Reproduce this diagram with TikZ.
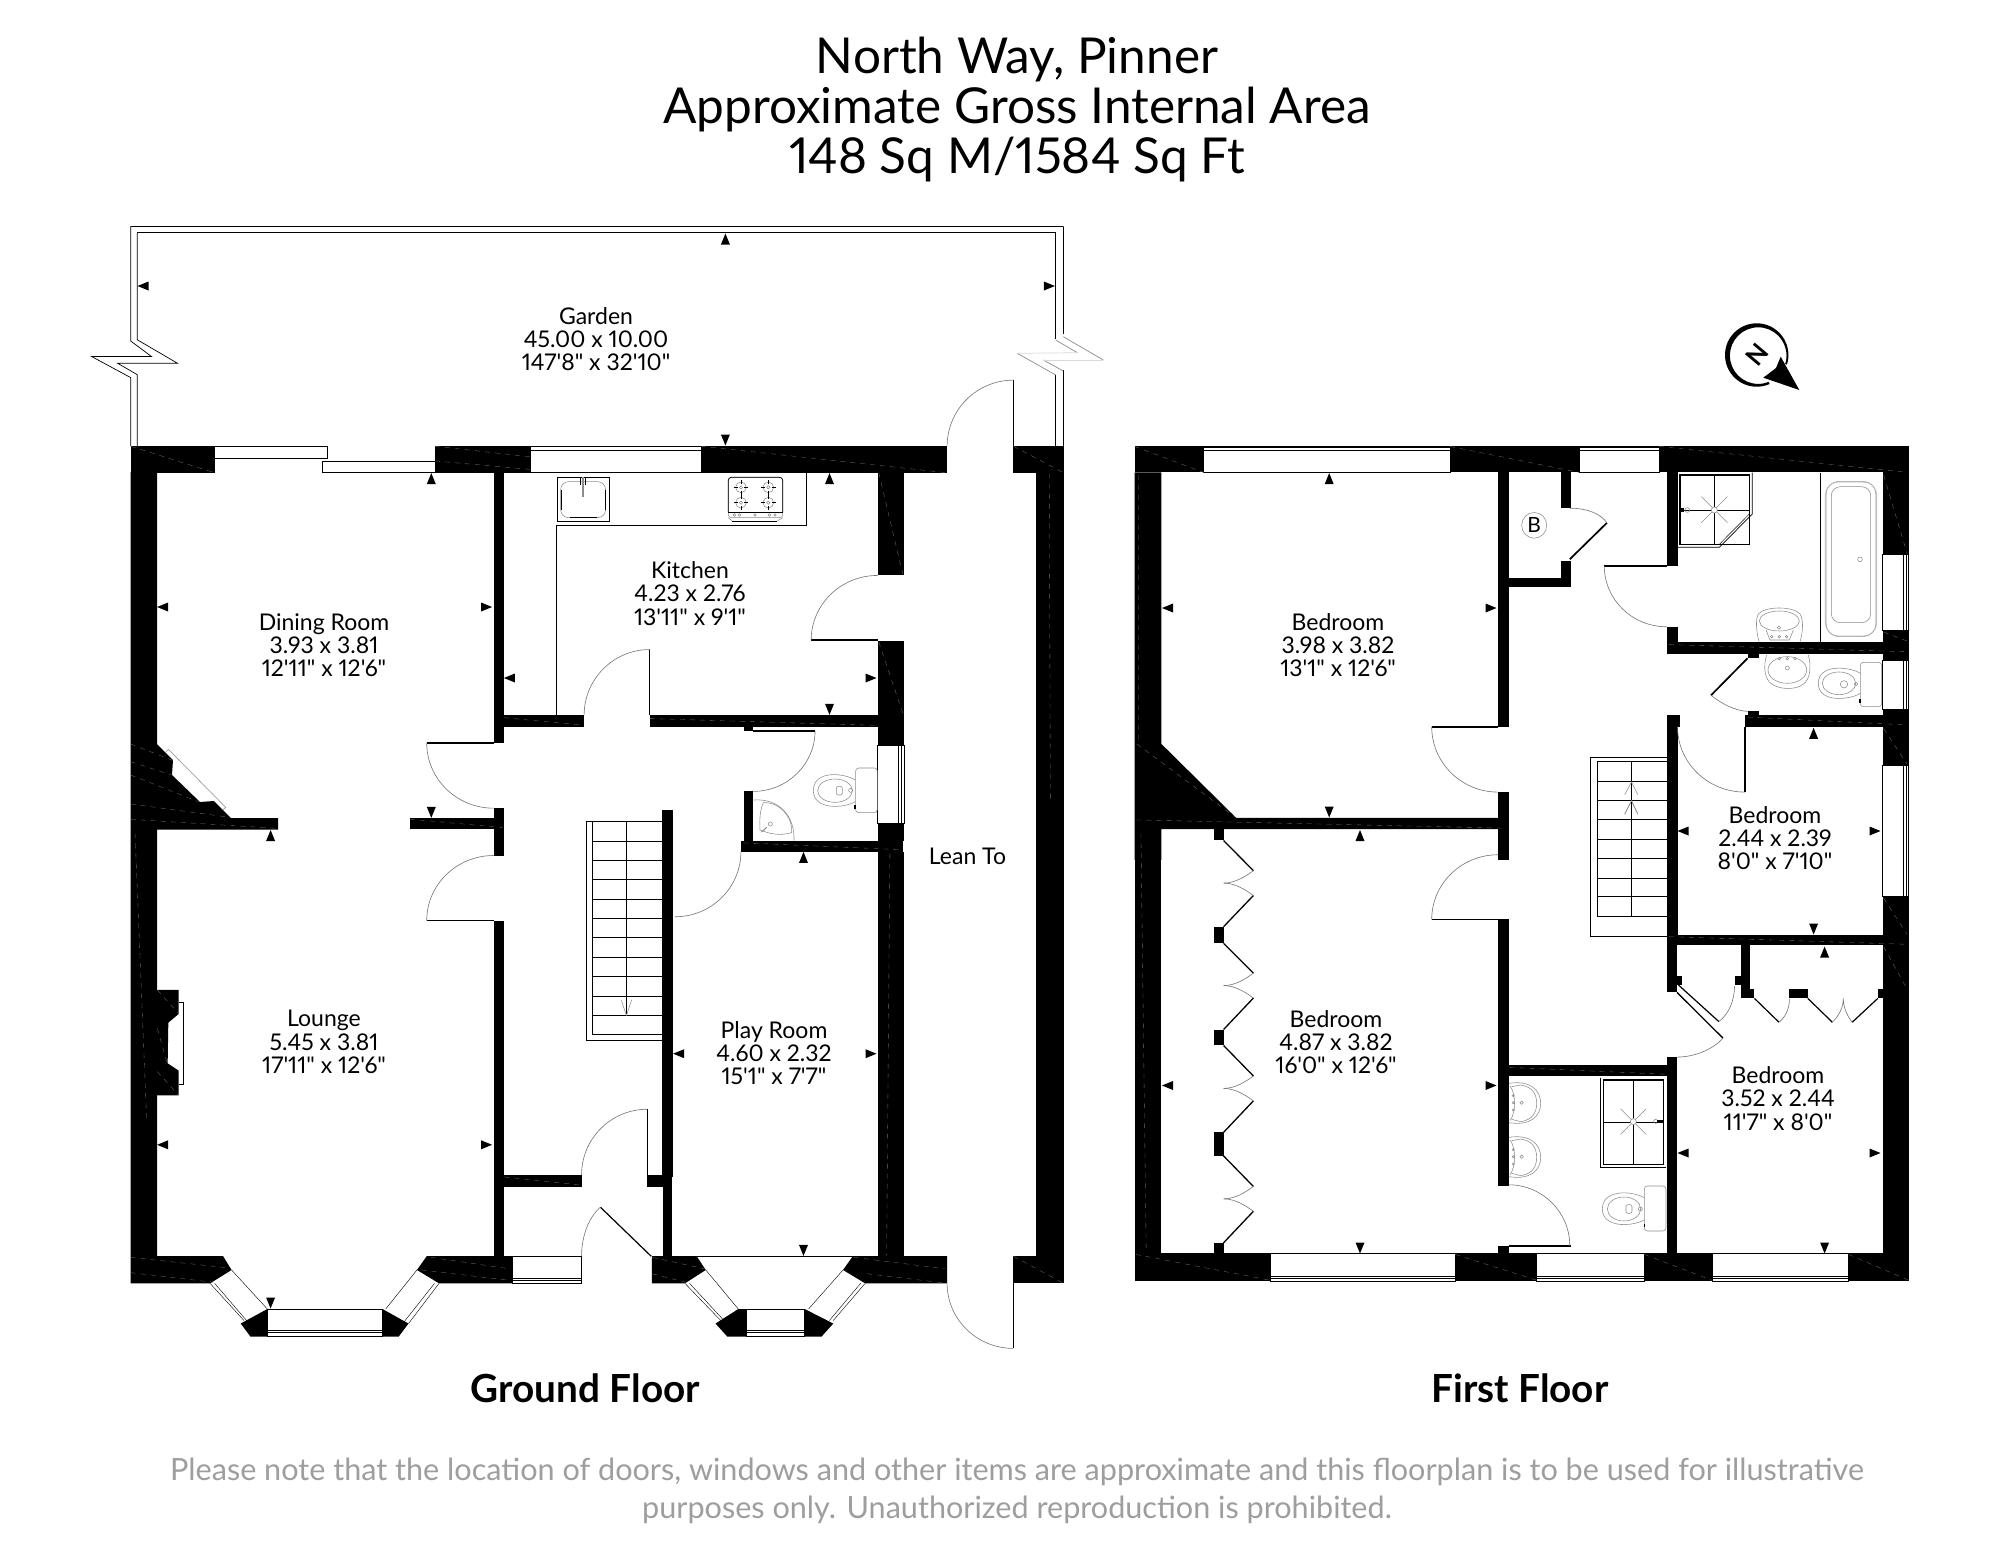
\documentclass[tikz,border=0pt]{standalone}
\usepackage{fontspec}
\usetikzlibrary{calc}
\newfontfamily\lato[Numbers=Proportional]{Lato}
\newfontfamily\latob[Numbers=Proportional]{Lato Bold}
\definecolor{arcg}{gray}{0.45}
\definecolor{fixg}{gray}{0.55}
\definecolor{ftg}{gray}{0.62}
\tikzset{
 z1/.style={shift={(80,200)},x=0.6505pt,y=-0.4209pt},
 z2/.style={shift={(80,800)},x=0.6505pt,y=-0.3827pt},
 z3/.style={shift={(1120,300)},x=0.523pt,y=-0.3571pt},
 z4/.style={shift={(1120,800)},x=0.523pt,y=-0.3317pt},
 z6/.style={shift={(120,700)},x=0.3333pt,y=-0.3333pt},
 z7/.style={shift={(1660,440)},x=0.3333pt,y=-0.3333pt},
 z8/.style={shift={(700,730)},x=0.3333pt,y=-0.3333pt},
 z9/.style={shift={(540,465)},x=0.3333pt,y=-0.3333pt},
 z10/.style={shift={(1500,1050)},x=0.3333pt,y=-0.3333pt},
 wall/.style={fill=black},
 thinl/.style={draw=black,line width=0.7pt},
 leaf/.style={draw=black,line width=1.7pt},
 arcl/.style={draw=arcg,line width=0.6pt},
 fix/.style={draw=fixg,line width=0.55pt},
 win/.style={draw=black,fill=white,line width=0.7pt},
 wl/.style={draw=white!42!black,line width=0.35pt,dash pattern=on 5pt off 5pt},
 room/.style={font=\lato\fontsize{23}{23.2}\selectfont,align=center,inner sep=0pt},
 ttl/.style={font=\lato\fontsize{49.5}{50}\selectfont,align=center,inner sep=0pt},
 flr/.style={font=\latob\fontsize{38.7}{40}\selectfont,inner sep=0pt},
 foot/.style={font=\lato\fontsize{30.6}{38.5}\selectfont,align=center,inner sep=0pt,text=ftg},
}
\newcommand\arcHV[4]{\pgfmathsetmacro\cxa{#1+0.552*(#3-#1)}\pgfmathsetmacro\cyb{#4-0.552*(#4-#2)}\draw[arcl] (#1,#2) .. controls (\cxa,#2) and (#3,\cyb) .. (#3,#4);}
\newcommand\mU[2]{\fill (#1,#2) ++(0,-5.5) -- ++(4.5,11) -- ++(-9,0) -- cycle;}
\newcommand\mD[2]{\fill (#1,#2) ++(0,5.5) -- ++(4.5,-11) -- ++(-9,0) -- cycle;}
\newcommand\mL[2]{\fill (#1,#2) ++(-5.5,0) -- ++(11,4.5) -- ++(0,-9) -- cycle;}
\newcommand\mR[2]{\fill (#1,#2) ++(5.5,0) -- ++(-11,4.5) -- ++(0,-9) -- cycle;}
\begin{document}
\begin{tikzpicture}[x=1pt,y=-1pt]
\fill[white] (0,0) rectangle (2000,1545);
\useasboundingbox (0,0) rectangle (2000,1545);
% ---- GROUND FLOOR upper
\begin{scope}[z1]
% garden
\draw[thinl] (78,585) -- (78,422) -- (18,372) -- (110,372) -- (78,335) -- (78,63) -- (1512,63);
\draw[thinl] (88,585) -- (88,415) -- (58,388) -- (150,388) -- (88,332) -- (88,78);
\draw[draw=black,line width=1.1pt] (88,78) -- (1500,78);
\draw[thinl] (1512,63) -- (1512,319);
\draw[thinl] (1500,78) -- (1500,330);
\draw[thinl] (1512,405) -- (1512,585);
\draw[thinl] (1500,415) -- (1500,585);
\end{scope}
% right zigzag (pixels)
\draw[draw=fixg,line width=.7pt] (1063.3,336.7) -- (1103.3,360);
\draw[draw=fixg,line width=.7pt] (1043.3,360) -- (1063.3,371);
\draw[draw=fixg,line width=.7pt] (1055.7,340) -- (1077.3,352.7);
\draw[draw=fixg,line width=.7pt] (1017.3,353.3) -- (1055.7,375);
\draw[draw=white!85!black,line width=1pt] (1103.3,360) -- (1043.3,360);
\draw[draw=white!85!black,line width=.7pt] (1077.3,352.7) -- (1017.3,353.3);
\begin{scope}[z1]
% top wall
\fill[wall] (78,585) rectangle (207,648);
\draw[win] (207,585) rectangle (380,613);
\draw[win] (373,620) rectangle (546,648);
\fill[wall] (546,585) rectangle (692,648);
\draw[win] (692,585) rectangle (955,648);
\draw[thinl] (692,595) -- (955,595);
\fill[wall] (955,585) rectangle (1333,648);
\fill[wall] (1435,585) rectangle (1512,648);
\draw[wl] (78,585) -- (207,648) (546,585) -- (692,610) (546,620) -- (692,640) (955,585) -- (1333,648) (1435,585) -- (1512,648);
% lean to door
\draw[thinl,line width=1pt] (1435,428) -- (1435,585);
\arcHV{1435}{428}{1333}{585}
% dining / kitchen wall
\fill[wall] (636,648) rectangle (652,1290);
\draw[leaf] (533,1290) -- (636,1290);
\arcHV{636}{1445}{533}{1290}
\fill[wall] (636,1224) rectangle (775,1252);
\fill[wall] (876,1224) rectangle (1265,1252);
\draw[wl] (652,1230) -- (775,1248) (876,1232) -- (1265,1250);
\draw[leaf,line width=1.2pt] (876,1068) -- (876,1224);
\arcHV{876}{1068}{775}{1224}
% worktop
\draw[thinl,line width=.7pt] (733,1224) -- (733,772) -- (1117,772) -- (1117,648);
% kitchen right wall
\fill[wall] (1226,648) rectangle (1267,892);
\fill[wall] (1226,1048) rectangle (1267,1295);
\draw[wl] (1228,648) -- (1265,890) (1228,1050) -- (1265,1220);
\draw[leaf] (1124,1046) -- (1226,1046);
\arcHV{1226}{892}{1124}{1046}
% WC window
\draw[win] (1226,1295) rectangle (1267,1480);
\draw[thinl] (1258,1295) -- (1258,1480) (1263,1295) -- (1263,1480);
\fill[wall] (1226,1480) rectangle (1267,1522);
\fill[wall] (1226,1252) rectangle (1267,1295);
% WC door
\fill[wall] (1020,1250) rectangle (1035,1262);
\draw[leaf] (1035,1261) -- (1130,1261);
\arcHV{1035}{1405}{1130}{1261}
\fill[wall] (1020,1405) rectangle (1035,1525);
% lean-to right wall
\fill[wall] (1470,648) rectangle (1512,1568);
\draw[wl] (1490,650) -- (1492,1568);
\draw[wl] (85,650) -- (100,1280);
\end{scope}
% sink and hob
\begin{scope}[z9]
\draw[thinl,line width=.8pt] (52,37) rectangle (208,170);
\draw[fix,rounded corners=8pt] (62,50) rectangle (197,158);
\draw[draw=black,line width=.7pt] (64,75) -- (64,135) (195,75) -- (195,135) (90,157) -- (170,157);
\draw[draw=fixg,line width=2pt] (128,37) -- (128,97);
\draw[draw=black,line width=.8pt] (121,37) -- (121,60) (136,37) -- (136,60);
\draw[fix,rounded corners=3pt] (565,37) rectangle (728,158);
\draw[draw=black,line width=.7pt,rounded corners=3pt] (565,142) -- (565,37) -- (728,37) -- (728,142);
\draw[draw=black,line width=.6pt] (565,142) -- (728,142);
\draw[draw=black,line width=1pt] (577,168) -- (712,168);
\draw[fix] (565,158) -- (577,168) (728,158) -- (712,168);
\foreach \kx in {583,598,645,688,705}{\draw[fix] (\kx,150) circle[radius=4];}
\foreach \bx/\by in {603/67,685/67,603/113,685/113}{
  \draw[fix] (\bx,\by) circle[radius=16];
  \draw[draw=black,line width=.5pt] (\bx-22,\by) -- (\bx-10,\by) (\bx+10,\by) -- (\bx+22,\by) (\bx,\by-22) -- (\bx,\by-10) (\bx,\by+10) -- (\bx,\by+22);
  \draw[fix] (\bx,\by) circle[radius=5];
}
\end{scope}
% left wall and chimney (pixels)
\fill[wall] (130.7,472) -- (157,472) -- (157,744) -- (173,760) -- (172,775) -- (200,802) -- (214,801) -- (231,818) -- (278,818) -- (278,829.5) -- (157,829.5) -- (157,1256) -- (130.7,1256) -- cycle;
\begin{scope}[z6]
\fill[wall] (110,870) -- (176,870) -- (176,942) -- (145,968) -- (143,1090) -- (176,1112) -- (176,1186) -- (110,1186) -- cycle;
\draw[thinl,line width=.9pt] (176,906) -- (190,906) -- (190,1153) -- (176,1153);
\draw[fix] (145,148) -- (317,322) -- (308,330);
\draw[fix] (145,148) -- (138,155);
\draw[wl] (32,132) -- (160,182) (32,185) -- (155,225) (32,225) -- (235,305) (32,312) -- (330,352) (32,358) -- (470,385) (112,870) -- (175,940) (112,1115) -- (175,1185) (112,985) -- (140,1085);
\draw[wl] (45,400) -- (80,1260);
\end{scope}
% ---- GROUND FLOOR lower
\begin{scope}[z2]
\fill[wall] (636,22) rectangle (652,145);
\fill[wall] (507,47) rectangle (636,77);
\draw[wl] (507,50) -- (650,72);
\draw[leaf] (533,315) -- (636,315);
\arcHV{636}{145}{533}{315}
\fill[wall] (636,315) rectangle (652,1192);
\fill[wall] (636,980) rectangle (771,1010);
\draw[wl] (652,985) -- (771,1006);
\draw[thinl,line width=1pt] (872,808) -- (872,980);
\arcHV{872}{808}{771}{980}
\fill[wall] (872,980) rectangle (910,1010);
\fill[wall] (895,25) rectangle (912,985);
\fill[wall] (896,985) rectangle (910,1192);
% stairs
\draw[thinl,line width=.8pt] (778,628) -- (778,55) -- (895,55);
\draw[thinl] (787,55) -- (787,612) -- (895,612);
\draw[thinl] (778,628) -- (895,628);
\draw[thinl] (840,55) -- (840,563);
\foreach \ty in {107,157,207,260,310,360,411,461,513,563}{\draw[thinl,line width=.9pt] (787,\ty) -- (895,\ty);}
\draw[fix] (832,522) -- (840,563) -- (848,522);
% WC wall under
\fill[wall] (1016,107) rectangle (1265,135);
\draw[wl] (1020,112) -- (1265,130);
\fill[wall] (1226,135) rectangle (1267,1192);
\fill[wall] (1226,60) rectangle (1267,107);
\draw[wl] (1245,140) -- (1240,1190);
\arcHV{915}{305}{1016}{135}
% bottom wall
\fill[wall] (78,1192) -- (220,1192) -- (233,1228) -- (200,1263) -- (78,1263) -- cycle;
\fill[wall] (533,1192) -- (665,1192) -- (665,1263) -- (552,1263) -- (518,1228) -- cycle;
\draw[win] (665,1192) rectangle (771,1263);
\draw[thinl] (665,1250) -- (771,1250) (665,1256) -- (771,1256);
\fill[wall] (879,1192) -- (948,1192) -- (962,1228) -- (930,1263) -- (879,1263) -- cycle;
\fill[wall] (1188,1192) -- (1333,1192) -- (1333,1263) -- (1207,1263) -- (1173,1228) -- cycle;
\fill[wall] (1435,1192) rectangle (1512,1263);
\fill[wall] (1470,0) rectangle (1512,1192);
\draw[wl] (78,1195) -- (225,1222) (78,1235) -- (205,1260) (525,1228) -- (660,1255) (540,1195) -- (660,1225) (880,1195) -- (960,1225) (880,1238) -- (935,1262) (1190,1195) -- (1330,1225) (1210,1238) -- (1330,1262) (1435,1192) -- (1512,1263);
% lounge bay
\fill[wall] (288,1330) -- (247,1368) -- (262,1402) -- (288,1402) -- cycle;
\fill[wall] (465,1330) -- (505,1368) -- (490,1402) -- (465,1402) -- cycle;
\draw[win] (288,1330) rectangle (465,1402);
\draw[thinl] (288,1386) -- (465,1386) (288,1392) -- (465,1392);
\draw[thinl,line width=.4pt] (233,1228) -- (288,1330) (200,1263) -- (252,1360) (207,1263) -- (258,1364) (518,1228) -- (470,1330) (552,1263) -- (505,1368) (545,1263) -- (498,1364);
% play bay
\fill[wall] (1012,1330) -- (977,1368) -- (995,1402) -- (1024,1402) -- (1024,1330) -- cycle;
\fill[wall] (1114,1330) -- (1158,1368) -- (1140,1402) -- (1114,1402) -- cycle;
\draw[win] (1024,1330) rectangle (1114,1402);
\draw[thinl] (1024,1386) -- (1114,1386) (1024,1392) -- (1114,1392);
\draw[thinl,line width=.4pt] (962,1228) -- (1012,1330) (930,1263) -- (985,1360) (937,1263) -- (990,1360) (1173,1228) -- (1120,1330) (1207,1263) -- (1158,1360) (1200,1263) -- (1152,1360);
\draw[thinl,line width=.8pt] (948,1192) -- (1188,1192);
% front door
\draw[leaf,line width=1.2pt] (800,1064) -- (878,1192);
\draw[arcl] (800,1064) .. controls (782,1090) and (771,1140) .. (771,1192);
% lean-to lower door
\draw[thinl,line width=1pt] (1435,1263) -- (1435,1433);
\arcHV{1435}{1433}{1333}{1263}
\end{scope}
% WC fixtures
\begin{scope}[z8]
\draw[fix,rounded corners=3pt] (467,114) rectangle (532,248);
\draw[fix] (466,150) .. controls (430,128) and (340,120) .. (340,182) .. controls (340,240) and (430,236) .. (466,215);
\draw[fix] (405,182) circle[x radius=52,y radius=35];
\draw[fix,rounded corners=2pt] (409,169) rectangle (427,195);
\draw[fix] (452,181) circle[radius=6];
\fill (463,226) rectangle (467,236);
\draw[fix] (162,210) .. controls (240,205) and (285,260) .. (282,332);
\draw[fix] (190,218) .. controls (240,215) and (280,265) .. (275,308) .. controls (240,318) and (210,312) .. (180,300) .. controls (178,270) and (180,240) .. (190,218);
\draw[fix] (211,282) circle[radius=6];
\draw[fix,line width=1pt] (185,306) -- (200,292);
\end{scope}
% ---- FIRST FLOOR
\begin{scope}[z3]
\fill[wall] (28,410) rectangle (160,483);
\draw[win] (160,410) rectangle (631,483);
\draw[thinl] (160,414) -- (631,414) (160,422) -- (631,422);
\fill[wall] (631,410) rectangle (878,483);
\draw[win] (878,410) rectangle (1031,483);
\draw[thinl] (878,414) -- (1031,414) (878,422) -- (1031,422);
\fill[wall] (1031,410) rectangle (1508,483);
\draw[wl] (28,410) -- (160,483) (631,410) -- (878,483) (1031,410) -- (1508,483);
% left wall + chimney
\fill[wall] (28,483) -- (79,483) -- (79,1243) -- (222,1450) -- (743,1450) -- (743,1482) -- (79,1482) -- (79,1568) -- (28,1568) -- cycle;
\draw[wl] (35,490) -- (35,1240) (32,1243) -- (220,1448) (32,1458) -- (740,1475);
% right wall
\fill[wall] (1458,483) rectangle (1508,713);
\draw[win] (1458,713) rectangle (1508,925);
\draw[thinl] (1498,713) -- (1498,925) (1503,713) -- (1503,925);
\fill[wall] (1458,925) rectangle (1508,958);
\fill[wall] (1045,958) rectangle (1508,990);
\fill[wall] (1458,990) rectangle (1508,1008);
\draw[win] (1458,1008) rectangle (1508,1145);
\draw[thinl] (1498,1008) -- (1498,1145) (1503,1008) -- (1503,1145);
\fill[wall] (1458,1145) rectangle (1508,1162);
\fill[wall] (1195,1162) rectangle (1508,1195);
\fill[wall] (1458,1195) rectangle (1508,1302);
\draw[wl] (1460,490) -- (1505,710) (1460,930) -- (1505,955) (1050,965) -- (1505,985) (1200,1168) -- (1505,1190) (1460,1200) -- (1505,1300);
% internal wall
\fill[wall] (723,483) rectangle (743,1195);
\draw[leaf] (596,1195) -- (723,1195);
\arcHV{723}{1378}{596}{1195}
\fill[wall] (723,1378) rectangle (743,1568);
% cupboard
\fill[wall] (723,778) rectangle (862,803);
\fill[wall] (843,483) rectangle (862,583);
\fill[wall] (843,730) rectangle (862,803);
\draw[leaf] (860,726) -- (931,624);
\draw[arcl] (860,583) .. controls (895,583) and (920,600) .. (931,624);
\draw[fix] (792,631) circle[x radius=24,y radius=36];
\node[inner sep=0pt,font=\lato\fontsize{21}{23}\selectfont] (bletter) at (792,631) {B};
% bathroom wall
\fill[wall] (1045,483) rectangle (1066,745);
\draw[leaf] (926,745) -- (1045,745);
\arcHV{1045}{915}{926}{745}
\fill[wall] (1045,915) rectangle (1066,958);
% WC door
\fill[wall] (1200,990) rectangle (1222,1003);
\draw[leaf] (1200,1003) -- (1130,1107);
\draw[arcl] (1130,1107) .. controls (1150,1130) and (1175,1150) .. (1200,1152);
\fill[wall] (1200,1152) rectangle (1222,1162);
% bed 2 door + wall
\fill[wall] (1045,1162) rectangle (1071,1195);
\fill[wall] (1045,1195) rectangle (1067,1568);
\draw[leaf,line width=1.2pt] (1195,1195) -- (1195,1378);
\arcHV{1195}{1378}{1066}{1195}
% stairs
\draw[thinl,line width=.8pt] (900,1568) -- (900,1280) -- (1045,1280);
\draw[thinl] (912,1568) -- (912,1292) -- (1045,1292);
\draw[thinl] (978,1292) -- (978,1568);
\foreach \ty in {1348,1402,1455,1510}{\draw[thinl,line width=.9pt] (912,\ty) -- (1045,\ty);}
\draw[fix] (965,1385) -- (978,1350) -- (990,1385);
\draw[fix] (965,1440) -- (978,1403) -- (990,1440);
\end{scope}
% bedroom 2 window (pixels)
\draw[win] (1882.5,765) rectangle (1908.7,896.8);
\draw[thinl] (1903.4,765) -- (1903.4,896.8) (1906,765) -- (1906,896.8);
\begin{scope}[z4]
\fill[wall] (28,0) rectangle (79,1368);
\fill[wall] (79,55) rectangle (743,88);
\draw[wl] (32,60) -- (740,85) (40,100) -- (50,1360);
\fill[wall] (723,88) rectangle (743,165);
\draw[leaf] (596,360) -- (723,360);
\arcHV{723}{165}{596}{360}
\fill[wall] (723,360) rectangle (743,1163);
\fill[wall] (723,800) rectangle (1065,832);
\fill[wall] (723,1344) rectangle (743,1368);
\draw[leaf] (743,1344) -- (862,1344);
\arcHV{743}{1160}{860}{1344}
\draw[wl] (745,806) -- (1060,828);
% bottom wall
\fill[wall] (28,1368) rectangle (288,1450);
\draw[win] (288,1368) rectangle (641,1450);
\draw[thinl] (288,1436) -- (641,1436) (288,1442) -- (641,1442);
\fill[wall] (641,1368) rectangle (797,1450);
\draw[win] (797,1368) rectangle (1003,1450);
\draw[thinl] (797,1436) -- (1003,1436) (797,1442) -- (1003,1442);
\fill[wall] (1003,1368) rectangle (1132,1450);
\draw[win] (1132,1368) rectangle (1393,1450);
\draw[thinl] (1132,1436) -- (1393,1436) (1132,1442) -- (1393,1442);
\fill[wall] (1393,1368) rectangle (1508,1450);
\draw[thinl,line width=.8pt] (79,1368) -- (1458,1368);
\draw[wl] (30,1370) -- (288,1448) (641,1370) -- (797,1448) (1003,1370) -- (1132,1448) (1393,1370) -- (1508,1448);
% right
\fill[wall] (1458,292) rectangle (1508,408);
\fill[wall] (1045,408) rectangle (1508,438);
\fill[wall] (1458,438) rectangle (1508,1368);
\fill[wall] (1449,570) rectangle (1458,598);
\draw[wl] (1460,296) -- (1505,405) (1050,412) -- (1505,435) (1460,442) -- (1505,570);
% bed wall
\fill[wall] (1045,0) rectangle (1067,408);
% wardrobes left
\foreach \ya/\yb in {88/122,382/432,692/740,1002/1073,1335/1368}{\fill[wall] (180,\ya) rectangle (198,\yb);}
\foreach \ya/\yb/\yc/\yd in {122/213/288/382,432/522/597/692,740/832/907/1002,1073/1165/1240/1335}{
  \draw[leaf,line width=1.3pt] (198,\ya) -- (255,\yb);
  \draw[leaf,line width=1.3pt] (255,\yc) -- (198,\yd);
  \pgfmathsetmacro\ym{(\yb+\yc)/2}
  \draw[arcl] (255,\yb) .. controls (240,\ym-20) and (220,\ym) .. (198,\ym);
  \draw[arcl] (255,\yc) .. controls (240,\ym+20) and (220,\ym) .. (198,\ym);
}
% lower right cupboards
\fill[wall] (1045,438) rectangle (1065,580);
\fill[wall] (1065,532) rectangle (1075,558);
\draw[leaf,line width=1.2pt] (1068,558) -- (1145,668);
\draw[leaf,line width=1.3pt] (1065,580) -- (1153,718);
\draw[arcl] (1153,718) .. controls (1135,750) and (1100,775) .. (1065,775);
\draw[arcl] (1175,562) .. controls (1175,600) and (1165,645) .. (1145,668);
\fill[wall] (1175,532) rectangle (1187,558);
\fill[wall] (1187,438) rectangle (1205,598);
\fill[wall] (1205,570) rectangle (1213,598);
\fill[wall] (1280,570) rectangle (1315,598);
\draw[leaf,line width=1.2pt] (1213,598) -- (1260,670) (1315,598) -- (1362,670) (1400,670) -- (1449,598);
\draw[arcl] (1280,600) .. controls (1280,630) and (1272,655) .. (1260,670);
\draw[arcl] (1362,670) .. controls (1375,650) and (1383,625) .. (1383,598) .. controls (1383,625) and (1390,650) .. (1400,670);
\fill[wall] (1045,775) rectangle (1065,1368);
% stairs
\draw[thinl,line width=.8pt] (900,0) -- (900,410) -- (1045,410);
\draw[thinl] (912,0) -- (912,350) -- (1045,350);
\draw[thinl] (978,0) -- (978,350);
\foreach \ty in {60,118,176,235,292}{\draw[thinl,line width=.9pt] (912,\ty) -- (1045,\ty);}
\draw[fix] (965,42) -- (978,2) -- (990,42);
\end{scope}
% en-suite fixtures
\begin{scope}[z10]
\draw[thinl,line width=.7pt] (302,83) -- (302,352) -- (498,352);
\draw[thinl,line width=1.1pt] (310,90) rectangle (490,343);
\draw[thinl,line width=1pt] (401,90) -- (401,343) (310,216) -- (490,216);
\draw[fix] (362,177) -- (438,253) (438,177) -- (362,253);
\draw[fix,fill=white] (400,215) circle[radius=9];
\draw[fix] (467,214) circle[radius=6];
\fill (472,211) rectangle (490,218);
\foreach \dy in {0,162}{
 \begin{scope}[yshift=-\dy*1pt/3]
 \draw[fix] (27,100) .. controls (90,90) and (122,120) .. (122,160) .. controls (122,200) and (90,228) .. (27,218);
 \draw[fix] (62,105) .. controls (95,110) and (110,130) .. (110,160) .. controls (110,190) and (95,210) .. (62,215);
 \draw[fix] (30,108) .. controls (48,130) and (48,190) .. (30,212);
 \draw[fix] (62,105) -- (35,110) (62,215) -- (35,208);
 \foreach \hy in {137,158,180}{\draw[fix] (40,\hy) circle[radius=3.5];}
 \draw[fix] (65,158) circle[radius=5];
 \end{scope}
}
\draw[fix,rounded corners=3pt] (433,408) rectangle (498,543);
\draw[fix] (433,443) .. controls (390,420) and (307,420) .. (307,477) .. controls (307,532) and (390,532) .. (433,510);
\draw[fix] (372,477) circle[x radius=50,y radius=36];
\draw[fix,rounded corners=2pt] (378,464) rectangle (396,490);
\draw[fix] (421,477) circle[radius=6];
\fill (432,522) rectangle (436,532);
\end{scope}
% bathroom fixtures
\begin{scope}[z7]
\draw[thinl,line width=1.2pt] (60,105) rectangle (268,313);
\draw[thinl,line width=.7pt] (277,98) -- (277,222) -- (178,322) -- (52,322);
\draw[thinl,line width=.5pt] (268,222) -- (178,313);
\draw[thinl,line width=1pt] (163,105) -- (163,313) (60,210) -- (268,210);
\draw[fix] (124,170) -- (202,248) (202,170) -- (124,248);
\draw[fix,fill=white] (163,210) circle[radius=9];
\draw[fix] (82,210) circle[radius=7];
\fill (58,204) rectangle (72,216);
\draw[thinl,line width=1pt] (481,98) -- (481,606);
\draw[fix,rounded corners=13pt] (498,124) rectangle (648,590);
\draw[draw=fixg!60,line width=.8pt,rounded corners=13pt] (496,126) rectangle (650,588);
\draw[fix,rounded corners=9pt] (514,140) rectangle (632,548);
\draw[fix] (600,358) circle[radius=7];
% upper basin
\draw[fix] (297,605) .. controls (290,580) and (285,540) .. (295,522) .. controls (315,498) and (400,498) .. (420,522) .. controls (432,540) and (428,580) .. (420,605);
\draw[fix] (358,543) circle[x radius=60,y radius=30];
\draw[fix] (318,570) -- (330,600) (400,570) -- (388,600) (330,600) -- (388,600);
\foreach \hx in {335,358,380}{\draw[fix] (\hx,590) circle[radius=4];}
\draw[fix] (357,563) circle[radius=5];
% lower basin
\draw[fix] (320,645) .. controls (308,680) and (315,720) .. (335,732) .. controls (360,750) and (410,750) .. (430,732) .. controls (450,720) and (455,680) .. (445,645);
\draw[fix] (382,690) circle[x radius=58,y radius=40];
\foreach \hx in {358,382,405}{\draw[fix] (\hx,656) circle[radius=4];}
\draw[fix] (382,684) circle[radius=6];
% toilet
\draw[fix,rounded corners=3pt] (601,667) rectangle (665,800);
\draw[fix] (601,700) .. controls (570,680) and (475,670) .. (475,730) .. controls (475,790) and (570,780) .. (601,760);
\draw[fix] (537,730) circle[x radius=50,y radius=34];
\draw[fix] (552,733) circle[radius=11];
\draw[fix] (588,732) circle[radius=5];
\fill (598,776) rectangle (602,788);
\end{scope}
% compass
\fill[even odd rule] (1756.7,355) circle[radius=31.7] (1758.2,355.6) circle[radius=28.3];
\fill[white] (1756.7,355) -- ++(18:40) -- ++(60:25) -- ++(170:25) -- (1756.7,355) ++(72:40) -- cycle;
\fill[white] (1756.7,355) -- ++(18:38) -- ++(100:26) -- ++(170:14) -- cycle;
\fill (1799.3,390) -- (1780.7,356.7) -- (1776,368) -- (1763.3,377.7) -- cycle;
\node[inner sep=0pt,font=\latob\fontsize{25}{28}\selectfont,rotate=-130] (northn) at (1757,354.3) {N};
% markers
\mU{725.4}{239} \mL{143}{286} \mR{1049.4}{286} \mD{725.4}{440}
\mU{431.3}{478.6} \mL{162.6}{607} \mR{486.6}{607} \mD{431.3}{812.4}
\mU{829.5}{478.6} \mL{509.4}{678} \mR{871}{678} \mD{829.5}{709.3}
\mU{270.6}{835.5} \mL{162.6}{1144.8} \mR{486.6}{1144.8} \mD{270.6}{1303}
\mU{803.5}{857.4} \mL{678.6}{1053.7} \mR{871}{1053.7} \mD{803.5}{1250.4}
\mU{1329.2}{478.6} \mL{1167.5}{608} \mR{1491}{608} \mD{1329.2}{812}
\mU{1360}{835.5} \mL{1167.5}{1085.5} \mR{1491}{1085.5} \mD{1360}{1248}
\mU{1813.6}{733.3} \mL{1683}{831} \mR{1875}{831} \mD{1813.6}{929}
\mU{1824.6}{952} \mL{1683}{1153} \mR{1875}{1153} \mD{1824.6}{1248}
% texts
\node[ttl] (title) at (1017,110) {North Way, Pinner\\Approximate Gross Internal Area\\148 Sq M/1584 Sq Ft};
\node[room] (garden) at (596,339) {Garden\\45.00 x 10.00\\147'8" x 32'10"};
\node[room] (kitchen) at (690,593.5) {Kitchen\\4.23 x 2.76\\13'11" x 9'1"};
\node[room] (dining) at (324,645) {Dining Room\\3.93 x 3.81\\12'11" x 12'6"};
\node[room] (lounge) at (324,1042) {Lounge\\5.45 x 3.81\\17'11" x 12'6"};
\node[room] (play) at (774,1053) {Play Room\\4.60 x 2.32\\15'1" x 7'7"};
\node[room] (leanto) at (967.5,856.6) {Lean To};
\node[room] (bed1) at (1338,645) {Bedroom\\3.98 x 3.82\\13'1" x 12'6"};
\node[room] (bed2) at (1775,838) {Bedroom\\2.44 x 2.39\\8'0" x 7'10"};
\node[room] (bed3) at (1336,1042) {Bedroom\\4.87 x 3.82\\16'0" x 12'6"};
\node[room] (bed4) at (1778,1098.5) {Bedroom\\3.52 x 2.44\\11'7" x 8'0"};
\node[flr] (gf) at (585.5,1388) {Ground Floor};
\node[flr] (ff) at (1520,1388) {First Floor};
\node[foot] (note) at (1017,1491) {Please note that the location of doors, windows and other items are approximate and this floorplan is to be used for illustrative\\purposes only. Unauthorized reproduction is prohibited.};
\end{tikzpicture}
\end{document}
